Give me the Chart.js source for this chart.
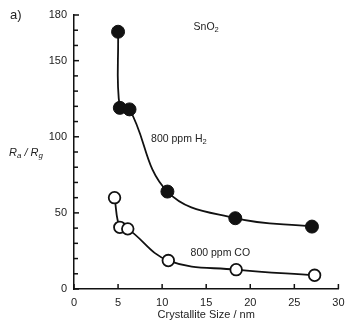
<!DOCTYPE html>
<html>
<head>
<meta charset="utf-8">
<script src="https://cdn.jsdelivr.net/npm/chart.js@4.4.0/dist/chart.umd.min.js"></script>
<style>
  html, body { margin: 0; padding: 0; background: #fff; }
  #wrap { width: 346px; height: 322px; }
</style>
</head>
<body>
<div id="wrap"><canvas id="chart"></canvas></div>
<script>
// crystallite size (nm) vs sensitivity Ra/Rg, SnO2
const sizeH2 = [5.0, 5.2, 6.3, 10.6, 18.3, 27.0];
const ratioH2 = [169, 119, 118, 64, 46.5, 41];
const sizeCO = [4.6, 5.2, 6.1, 10.7, 18.4, 27.3];
const ratioCO = [60, 40.5, 39.5, 18.7, 12.7, 9];

const xTicks = [0, 5, 10, 15, 20, 25, 30];
const yLabels = [0, 50, 100, 150, 180];

const INK = '#111';
const FONT = '"Liberation Sans", Arial, sans-serif';

const toPts = (xs, ys) => xs.map((x, i) => ({ x: x, y: ys[i] }));

// text with subscript parts: [[text, isSub], ...]
function drawParts(ctx, parts, cx, cy, size, italic) {
  const style = italic ? 'italic ' : '';
  let w = 0;
  parts.forEach(p => {
    ctx.font = style + (p[1] ? size * 0.72 : size) + 'px ' + FONT;
    w += ctx.measureText(p[0]).width;
  });
  let x = cx - w / 2;
  ctx.textBaseline = 'middle';
  ctx.textAlign = 'left';
  parts.forEach(p => {
    ctx.font = style + (p[1] ? size * 0.72 : size) + 'px ' + FONT;
    ctx.fillText(p[0], x, p[1] ? cy + 3 : cy);
    x += ctx.measureText(p[0]).width;
  });
}

const notes = [
  { parts: [['SnO', false], ['2', true]], x: 15.0, y: 172 },
  { parts: [['800 ppm H', false], ['2', true]], x: 11.9, y: 98.5 },
  { parts: [['800 ppm CO', false]], x: 16.6, y: 23.5 }
];

const extras = {
  id: 'extras',
  afterDraw(chart) {
    const ctx = chart.ctx;
    const xs = chart.scales.x, ys = chart.scales.y;
    ctx.save();
    ctx.strokeStyle = INK;
    ctx.lineWidth = 1.5;
    // inward tick marks
    ys.ticks.forEach(t => {
      const py = ys.getPixelForValue(t.value);
      const len = yLabels.includes(t.value) ? 5 : 4;
      ctx.beginPath();
      ctx.moveTo(xs.left, py);
      ctx.lineTo(xs.left + len, py);
      ctx.stroke();
    });
    xs.ticks.forEach(t => {
      const px = xs.getPixelForValue(t.value);
      ctx.beginPath();
      ctx.moveTo(px, ys.bottom);
      ctx.lineTo(px, ys.bottom - 5);
      ctx.stroke();
    });
    ctx.fillStyle = '#222';
    notes.forEach(n => {
      drawParts(ctx, n.parts, xs.getPixelForValue(n.x), ys.getPixelForValue(n.y), 10.5, false);
    });
    // y axis title
    drawParts(ctx, [['R', false], ['a', true], [' / ', false], ['R', false], ['g', true]], 26, 153, 11, true);
    // panel letter
    ctx.font = '13px ' + FONT;
    ctx.textAlign = 'left';
    ctx.textBaseline = 'middle';
    ctx.fillText('a)', 10, 15);
    ctx.restore();
  }
};

new Chart(document.getElementById('chart'), {
  type: 'scatter',
  data: {
    datasets: [
      {
        label: '800 ppm H2',
        data: toPts(sizeH2, ratioH2),
        showLine: true,
        tension: 0.4,
        borderColor: INK,
        borderWidth: 1.8,
        pointRadius: 6.5,
        pointBackgroundColor: INK,
        pointBorderColor: INK,
        pointBorderWidth: 1
      },
      {
        label: '800 ppm CO',
        data: toPts(sizeCO, ratioCO),
        showLine: true,
        tension: 0.4,
        borderColor: INK,
        borderWidth: 1.8,
        pointRadius: 5.8,
        pointBackgroundColor: '#fff',
        pointBorderColor: INK,
        pointBorderWidth: 1.8
      }
    ]
  },
  options: {
    responsive: true,
    maintainAspectRatio: false,
    animation: false,
    layout: { padding: { top: 15, right: 3, left: 0, bottom: 0 } },
    plugins: { legend: { display: false }, tooltip: { enabled: false } },
    scales: {
      x: {
        type: 'linear',
        min: 0,
        max: 30,
        afterFit: s => { s.height = 33; s.paddingRight = 0; },
        afterBuildTicks: s => { s.ticks = xTicks.map(v => ({ value: v })); },
        grid: { drawOnChartArea: false, drawTicks: false },
        border: { color: INK, width: 1.5 },
        ticks: { color: '#222', padding: 7, font: { family: FONT, size: 11 }, maxRotation: 0 },
        title: {
          display: true,
          text: 'Crystallite Size / nm',
          color: '#222',
          font: { family: FONT, size: 11 },
          padding: { top: 4, bottom: 0 }
        }
      },
      y: {
        min: 0,
        max: 180,
        afterFit: s => { s.width = 74; },
        grid: { drawOnChartArea: false, drawTicks: false },
        border: { color: INK, width: 1.5 },
        ticks: {
          stepSize: 10,
          autoSkip: false,
          color: '#222',
          padding: 7,
          font: { family: FONT, size: 11 },
          callback: v => (yLabels.includes(v) ? v : '')
        }
      }
    }
  },
  plugins: [extras]
});
</script>
</body>
</html>
